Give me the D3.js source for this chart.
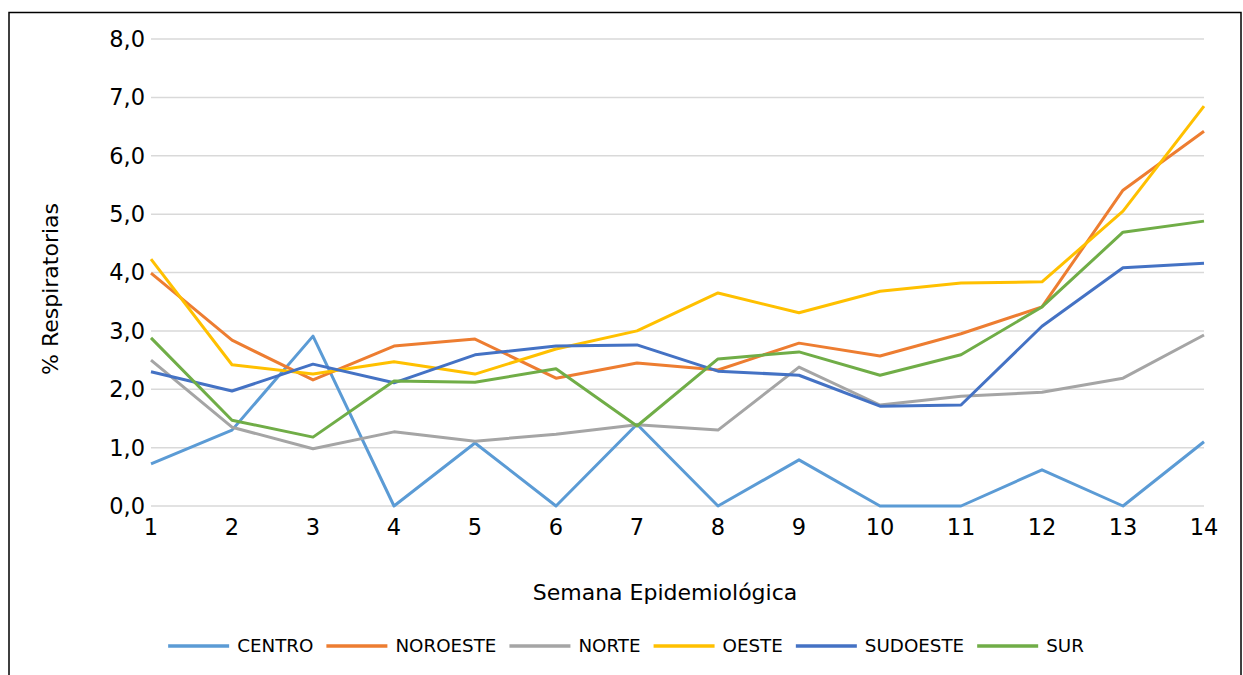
<!DOCTYPE html>
<html><head><meta charset="utf-8">
<script src="https://cdn.jsdelivr.net/npm/d3@7"></script>
<style>body{margin:0;background:#fff;} svg{display:block;font-family:"DejaVu Sans",sans-serif;}</style>
</head><body><svg id="c" width="1243" height="675"></svg>
<script>
const weeks = [1,2,3,4,5,6,7,8,9,10,11,12,13,14];
const seriesNames = ["CENTRO","NOROESTE","NORTE","OESTE","SUDOESTE","SUR"];
const colors = ["#5B9BD5","#ED7D31","#A5A5A5","#FFC000","#4472C4","#70AD47"];
const centro   = [0.72,1.30,2.91,0.00,1.08,0.00,1.40,0.00,0.79,0.00,0.00,0.62,0.00,1.10];
const noroeste = [3.99,2.84,2.16,2.74,2.86,2.19,2.45,2.33,2.79,2.57,2.95,3.41,5.41,6.42];
const norte    = [2.50,1.35,0.98,1.27,1.11,1.23,1.39,1.30,2.38,1.73,1.88,1.95,2.19,2.93];
const oeste    = [4.23,2.42,2.26,2.47,2.26,2.69,3.00,3.65,3.31,3.68,3.82,3.84,5.05,6.85];
const sudoeste = [2.30,1.97,2.43,2.11,2.59,2.74,2.76,2.31,2.24,1.71,1.73,3.08,4.08,4.16];
const sur      = [2.88,1.47,1.18,2.14,2.12,2.35,1.37,2.52,2.64,2.24,2.59,3.41,4.69,4.88];
const yTicks = [0,1,2,3,4,5,6,7,8];
const allSeries = [centro,noroeste,norte,oeste,sudoeste,sur];

const svg = d3.select("#c");
// border
svg.append("rect").attr("x",9).attr("y",12.5).attr("width",1232).attr("height",700)
  .attr("fill","none").attr("stroke","#000").attr("stroke-width",1.5);

const x = d3.scaleLinear().domain([1,14]).range([151,1204]);
const y = d3.scaleLinear().domain([0,8]).range([506,39]);

// gridlines
svg.append("g").selectAll("line").data(yTicks).join("line")
  .attr("x1",151).attr("x2",1204).attr("y1",d=>y(d)).attr("y2",d=>y(d))
  .attr("stroke","#d9d9d9").attr("stroke-width",1.5);

const fmt = d => d.toFixed(1).replace(".",",");
// y labels
svg.append("g").selectAll("text").data(yTicks).join("text")
  .attr("x",145).attr("y",d=>y(d)).attr("dy","0.35em").attr("text-anchor","end")
  .attr("font-size",22.5).attr("fill","#000").text(fmt);
// x labels
svg.append("g").selectAll("text").data(weeks).join("text")
  .attr("x",d=>x(d)).attr("y",527).attr("dy","0.35em").attr("text-anchor","middle")
  .attr("font-size",22.5).attr("fill","#000").text(d=>d);

// titles
svg.append("text").attr("x",665).attr("y",592).attr("dy","0.35em").attr("text-anchor","middle")
  .attr("font-size",22).text("Semana Epidemiológica");
svg.append("text").attr("transform","translate(50,289) rotate(-90)").attr("dy","0.35em")
  .attr("text-anchor","middle").attr("font-size",22).text("% Respiratorias");

// lines
const line = d3.line().x((d,i)=>x(weeks[i])).y(d=>y(d));
svg.append("g").selectAll("path").data(allSeries).join("path")
  .attr("d",line).attr("fill","none").attr("stroke",(d,i)=>colors[i])
  .attr("stroke-width",3).attr("stroke-linejoin","round");

// legend
const lg = svg.append("g");
let cx = 0;
seriesNames.forEach((n,i)=>{
  const g = lg.append("g");
  g.append("line").attr("x1",0).attr("x2",61).attr("y1",0).attr("y2",0)
    .attr("stroke",colors[i]).attr("stroke-width",3.5);
  const t = g.append("text").attr("x",69).attr("dy","0.35em").attr("font-size",18.3).text(n);
  const w = t.node().getComputedTextLength();
  g.attr("transform",`translate(${cx},646)`);
  cx += 69 + w + 13;
});
const total = cx - 13;
lg.attr("transform",`translate(${626 - total/2},0)`);
</script></body></html>
